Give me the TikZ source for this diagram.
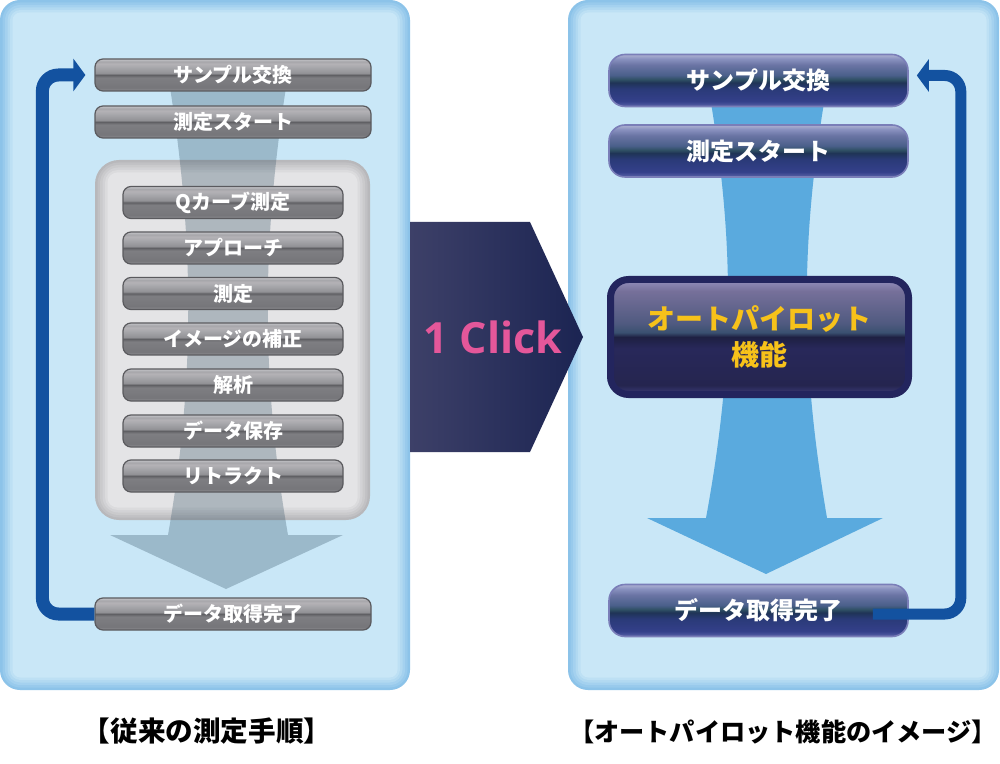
\documentclass[tikz,border=0pt]{standalone}
\usepackage{fontspec}
\setmainfont{Noto Sans CJK JP}
\newfontfamily\clickfont{Open Sans}
\usetikzlibrary{arrows.meta,calc}
% colours
\definecolor{panelEdge}{HTML}{8CC3E9}
\definecolor{panelIn}{HTML}{C9E7F7}
\definecolor{gpEdge}{HTML}{B8B8BB}
\definecolor{gpIn}{HTML}{E4E4E6}
\definecolor{grayArrow}{RGB}{50,80,100}
\definecolor{blueArrow}{HTML}{5AAADE}
\definecolor{loopBlue}{HTML}{1352A0}
\definecolor{pentL}{HTML}{3D4068}
\definecolor{pentR}{HTML}{1B2452}
\definecolor{clickPink}{HTML}{E4579A}
\definecolor{apYellow}{HTML}{F7C21A}
\definecolor{gbBorder}{HTML}{5A5A5E}
\definecolor{nbBorder}{HTML}{7A7EB8}
\definecolor{apFrame}{HTML}{23255E}
% gray button
\definecolor{gb0}{HTML}{8E8E92}
\definecolor{gb1}{HTML}{76767A}
\definecolor{gb2}{HTML}{7E7E82}
\definecolor{gb3}{HTML}{606064}
\definecolor{gb4}{HTML}{929296}
\definecolor{gb5}{HTML}{A8A8AC}
\definecolor{gb6}{HTML}{B4B2B6}
\definecolor{gb7}{HTML}{A6A6AA}
\definecolor{gb8}{HTML}{C6C6CA}
\pgfdeclareverticalshading{graybtn}{100bp}{color(0bp)=(gb0); color(25bp)=(gb0); color(30bp)=(gb1); color(46bp)=(gb2); color(50bp)=(gb3); color(53bp)=(gb4); color(62.5bp)=(gb5); color(67.5bp)=(gb6); color(71bp)=(gb7); color(75bp)=(gb8); color(100bp)=(gb8)}
% navy button
\definecolor{nb0}{HTML}{5A63A8}
\definecolor{nb1}{HTML}{34408A}
\definecolor{nb2}{HTML}{2A3A78}
\definecolor{nb3}{HTML}{1F3456}
\definecolor{nb4}{HTML}{2F5064}
\definecolor{nb5}{HTML}{4A5F8A}
\definecolor{nb6}{HTML}{6A74A4}
\definecolor{nb7}{HTML}{8A92C0}
\definecolor{nb8}{HTML}{AEB2D2}
\pgfdeclareverticalshading{navybtn}{100bp}{color(0bp)=(nb0); color(25bp)=(nb0); color(30bp)=(nb1); color(42bp)=(nb2); color(48bp)=(nb3); color(51bp)=(nb4); color(55bp)=(nb5); color(65bp)=(nb6); color(71bp)=(nb7); color(75bp)=(nb8); color(100bp)=(nb8)}
% autopilot box
\definecolor{ap0}{HTML}{3C3C7A}
\definecolor{ap1}{HTML}{25254F}
\definecolor{ap2}{HTML}{28285A}
\definecolor{ap3}{HTML}{1E2042}
\definecolor{ap4}{HTML}{3A5070}
\definecolor{ap5}{HTML}{505A80}
\definecolor{ap6}{HTML}{76709A}
\definecolor{ap7}{HTML}{9490BC}
\pgfdeclareverticalshading{apshade}{100bp}{color(0bp)=(ap0); color(25bp)=(ap0); color(29bp)=(ap1); color(45bp)=(ap2); color(50bp)=(ap3); color(52bp)=(ap4); color(56bp)=(ap5); color(70bp)=(ap6); color(75bp)=(ap7); color(100bp)=(ap7)}
\tikzset{
  gbtn/.style={draw=gbBorder, line width=0.6pt, rounded corners=4pt, shading=graybtn,
    text=white, font=\bfseries\fontsize{10}{12}\selectfont, minimum height=16pt, inner sep=0pt},
  gouter/.style={gbtn, minimum width=138pt},
  ginner/.style={gbtn, minimum width=110pt},
  nbtn/.style={draw=nbBorder, line width=0.8pt, rounded corners=8pt, shading=navybtn,
    text=white, font=\bfseries\fontsize{12}{14}\selectfont, minimum width=149.5pt,
    minimum height=26pt, inner sep=0pt},
  apbox/.style={draw=apFrame, line width=3.5pt, rounded corners=9pt, shading=apshade,
    text=apYellow, font=\bfseries\fontsize{14}{18}\selectfont, minimum width=149pt,
    minimum height=57.5pt, align=center, inner sep=0pt},
  loopline/.style={draw=loopBlue, line width=6.5pt, rounded corners=8pt,
    -{Triangle[length=6pt,width=16pt]}},
  caption/.style={font=\bfseries\fontsize{12.6}{14}\selectfont, text=black, inner sep=0pt}
}
\begin{document}
\begin{tikzpicture}[x=0.5pt,y=-0.5pt]
\useasboundingbox (0,0) rectangle (1000,764);
\fill[white] (0,0) rectangle (1000,764);
% panels with inner glow
\foreach \k in {0,...,5}{
  \pgfmathtruncatemacro\p{100-20*\k}
  \pgfmathsetmacro\r{10-1.2*\k}
  \fill[fill=panelEdge!\p!panelIn, rounded corners=\r pt] (2.5*\k,2.5*\k) rectangle (410-2.5*\k,690-2.5*\k);
  \fill[fill=panelEdge!\p!panelIn, rounded corners=\r pt] (568+2.5*\k,2.5*\k) rectangle (999-2.5*\k,690-2.5*\k);
}
% gray inner panel
\foreach \k in {0,...,5}{
  \pgfmathtruncatemacro\p{100-20*\k}
  \pgfmathsetmacro\r{12-1.4*\k}
  \fill[fill=gpEdge!\p!gpIn, rounded corners=\r pt] (95+2.5*\k,160+2.5*\k) rectangle (370-2.5*\k,520-2.5*\k);
}
% gray translucent arrow
\fill[grayArrow, opacity=0.3] (168,75) .. controls (195,240) and (195,380) .. (168,535)
  -- (110,535) -- (226,589) -- (343,535) -- (288,535)
  .. controls (261,380) and (261,240) .. (288,75) -- cycle;
% blue arrow
\fill[blueArrow] (708,85) .. controls (735,240) and (735,360) .. (706,518)
  -- (647,518) -- (766,574) -- (883,518) -- (827,518)
  .. controls (800,360) and (800,240) .. (827,85) -- cycle;
% middle pentagon arrow
\shade[left color=pentL, right color=pentR] (410,222) -- (530,222) -- (583,337) -- (530,452) -- (410,452) -- cycle;
\node[font=\clickfont\bfseries\fontsize{21.5}{26}\selectfont, text=clickPink] (click) at (493,337) {1 Click};
% left steps
\node[gouter] (sx) at (233,75) {サンプル交換};
\node[gouter] (ms) at (233,122) {測定スタート};
\node[ginner] (q) at (233,202.5) {Qカーブ測定};
\node[ginner] (ap1) at (233,248) {アプローチ};
\node[ginner] (me) at (233,293.5) {測定};
\node[ginner] (im) at (233,339) {イメージの補正};
\node[ginner] (an) at (233,385) {解析};
\node[ginner] (ds) at (233,431) {データ保存};
\node[ginner] (rt) at (233,476) {リトラクト};
\node[gouter] (dtl) at (233,614) {データ取得完了};
% right steps
\node[nbtn] (sx2) at (758.5,80.5) {サンプル交換};
\node[nbtn] (ms2) at (758.5,151) {測定スタート};
\node[apbox] (ap) at (759.5,337) {オートパイロット\\機能};
\node[nbtn] (dtr) at (758.5,610.5) {データ取得完了};
% loops
\draw[loopline, shorten >=4.5pt] (dtl.west) -- ++(-52,0) |- (sx.west);
\coordinate (rs) at ($(dtr.east)+(-36,3.5)$);
\draw[loopline, line width=5.5pt, shorten >=4pt] (rs) -- ++(88,0) |- ([yshift=2.5pt]sx2.east);
% captions
\node[caption, font=\bfseries\fontsize{13.8}{15}\selectfont] (c1) at (207,731) {【従来の測定手順】};
\node[caption] (c2) at (783,732) {【オートパイロット機能のイメージ】};
\end{tikzpicture}
\end{document}
